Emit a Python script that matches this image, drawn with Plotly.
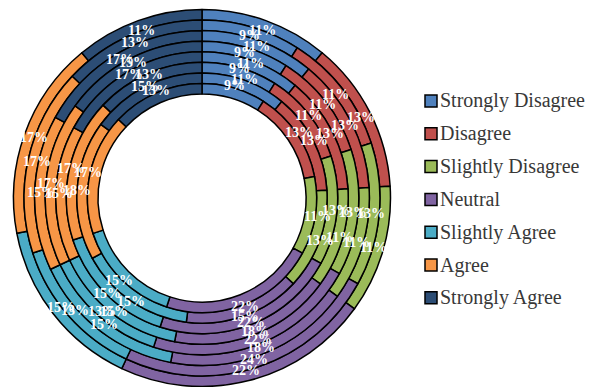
import math
import plotly.graph_objects as go

# Response categories and their colours
categories = ["Strongly Disagree", "Disagree", "Slightly Disagree", "Neutral",
              "Slightly Agree", "Agree", "Strongly Agree"]
colors = ["#4F81BD", "#C0504D", "#9BBB59", "#8064A2", "#4BACC6", "#F79646", "#2C4D75"]

# Share of responses (%) per category, one value per ring, outermost ring first
strongly_disagree = [11, 9, 11, 9, 11, 9, 11, 9]
disagree = [13, 11, 13, 11, 13, 11, 13, 13]
slightly_disagree = [11, 13, 11, 13, 11, 13, 13, 11]
neutral = [22, 24, 18, 22, 18, 22, 15, 22]
slightly_agree = [15, 13, 15, 13, 15, 15, 15, 15]
agree = [17, 17, 15, 17, 15, 17, 18, 17]
strongly_agree = [11, 13, 17, 15, 17, 13, 15, 13]

series = [strongly_disagree, disagree, slightly_disagree, neutral,
          slightly_agree, agree, strongly_agree]

# Canvas and ring geometry (pixels)
W, H = 605, 387
CX, CY = 202, 198
R_OUTER, R_INNER = 188.5, 104.0
N_RINGS = len(strongly_disagree)
RING_W = (R_OUTER - R_INNER) / N_RINGS
R_BAND_MID = (R_OUTER + R_INNER) / 2
LABEL_SPREAD = 0.83   # pulls labels of the edge rings slightly towards the band centre
LABEL_SHIFT = 1.3     # small outward nudge of all labels

SERIF = "Liberation Serif"
LABEL_FONT = dict(family=SERIF, size=14, color="white", weight="bold")
LEGEND_FONT = dict(family=SERIF, size=20, color="#383838")


def px_x(x):
    return x / W


def px_y(y):
    return 1 - y / H


fig = go.Figure()

for i in range(N_RINGS):
    vals = [s[i] for s in series]
    r_out = R_OUTER - i * RING_W
    r_in = r_out - RING_W
    fig.add_trace(go.Pie(
        values=vals,
        labels=categories,
        sort=False,
        direction="clockwise",
        rotation=0,
        hole=r_in / r_out,
        domain=dict(x=[px_x(CX - r_out), px_x(CX + r_out)],
                    y=[px_y(CY + r_out), px_y(CY - r_out)]),
        marker=dict(colors=colors, line=dict(color="black", width=1.5)),
        textinfo="none",
        hoverinfo="label+percent",
        showlegend=False,
    ))

    # Percentage labels at the middle angle of each slice
    total = sum(vals)
    r_mid = (r_out + r_in) / 2
    r_lab = R_BAND_MID + LABEL_SHIFT + (r_mid - R_BAND_MID) * LABEL_SPREAD
    cum = 0
    for v in vals:
        theta = math.radians((cum + v / 2) / total * 360)
        x = CX + r_lab * math.sin(theta)
        y = CY - r_lab * math.cos(theta)
        fig.add_annotation(x=px_x(x), y=px_y(y), xref="paper", yref="paper",
                           text=f"{v}%", showarrow=False, font=LABEL_FONT,
                           xanchor="center", yanchor="middle")
        cum += v

# Legend: coloured squares with category names
LEG_X, LEG_Y0, LEG_DY, SQ = 425, 101, 32.8, 12
for k, (name, col) in enumerate(zip(categories, colors)):
    yc = LEG_Y0 + k * LEG_DY
    fig.add_shape(type="rect", xref="paper", yref="paper",
                  x0=px_x(LEG_X), x1=px_x(LEG_X + SQ),
                  y0=px_y(yc + SQ / 2), y1=px_y(yc - SQ / 2),
                  fillcolor=col, line=dict(color="black", width=1.5))
    fig.add_annotation(x=px_x(LEG_X + SQ + 1), y=px_y(yc), xref="paper", yref="paper",
                       text=name, showarrow=False, font=LEGEND_FONT,
                       xanchor="left", yanchor="middle")

fig.update_layout(
    width=W, height=H,
    margin=dict(l=0, r=0, t=0, b=0),
    paper_bgcolor="white",
    plot_bgcolor="white",
    showlegend=False,
)

fig.write_html("out.html")
